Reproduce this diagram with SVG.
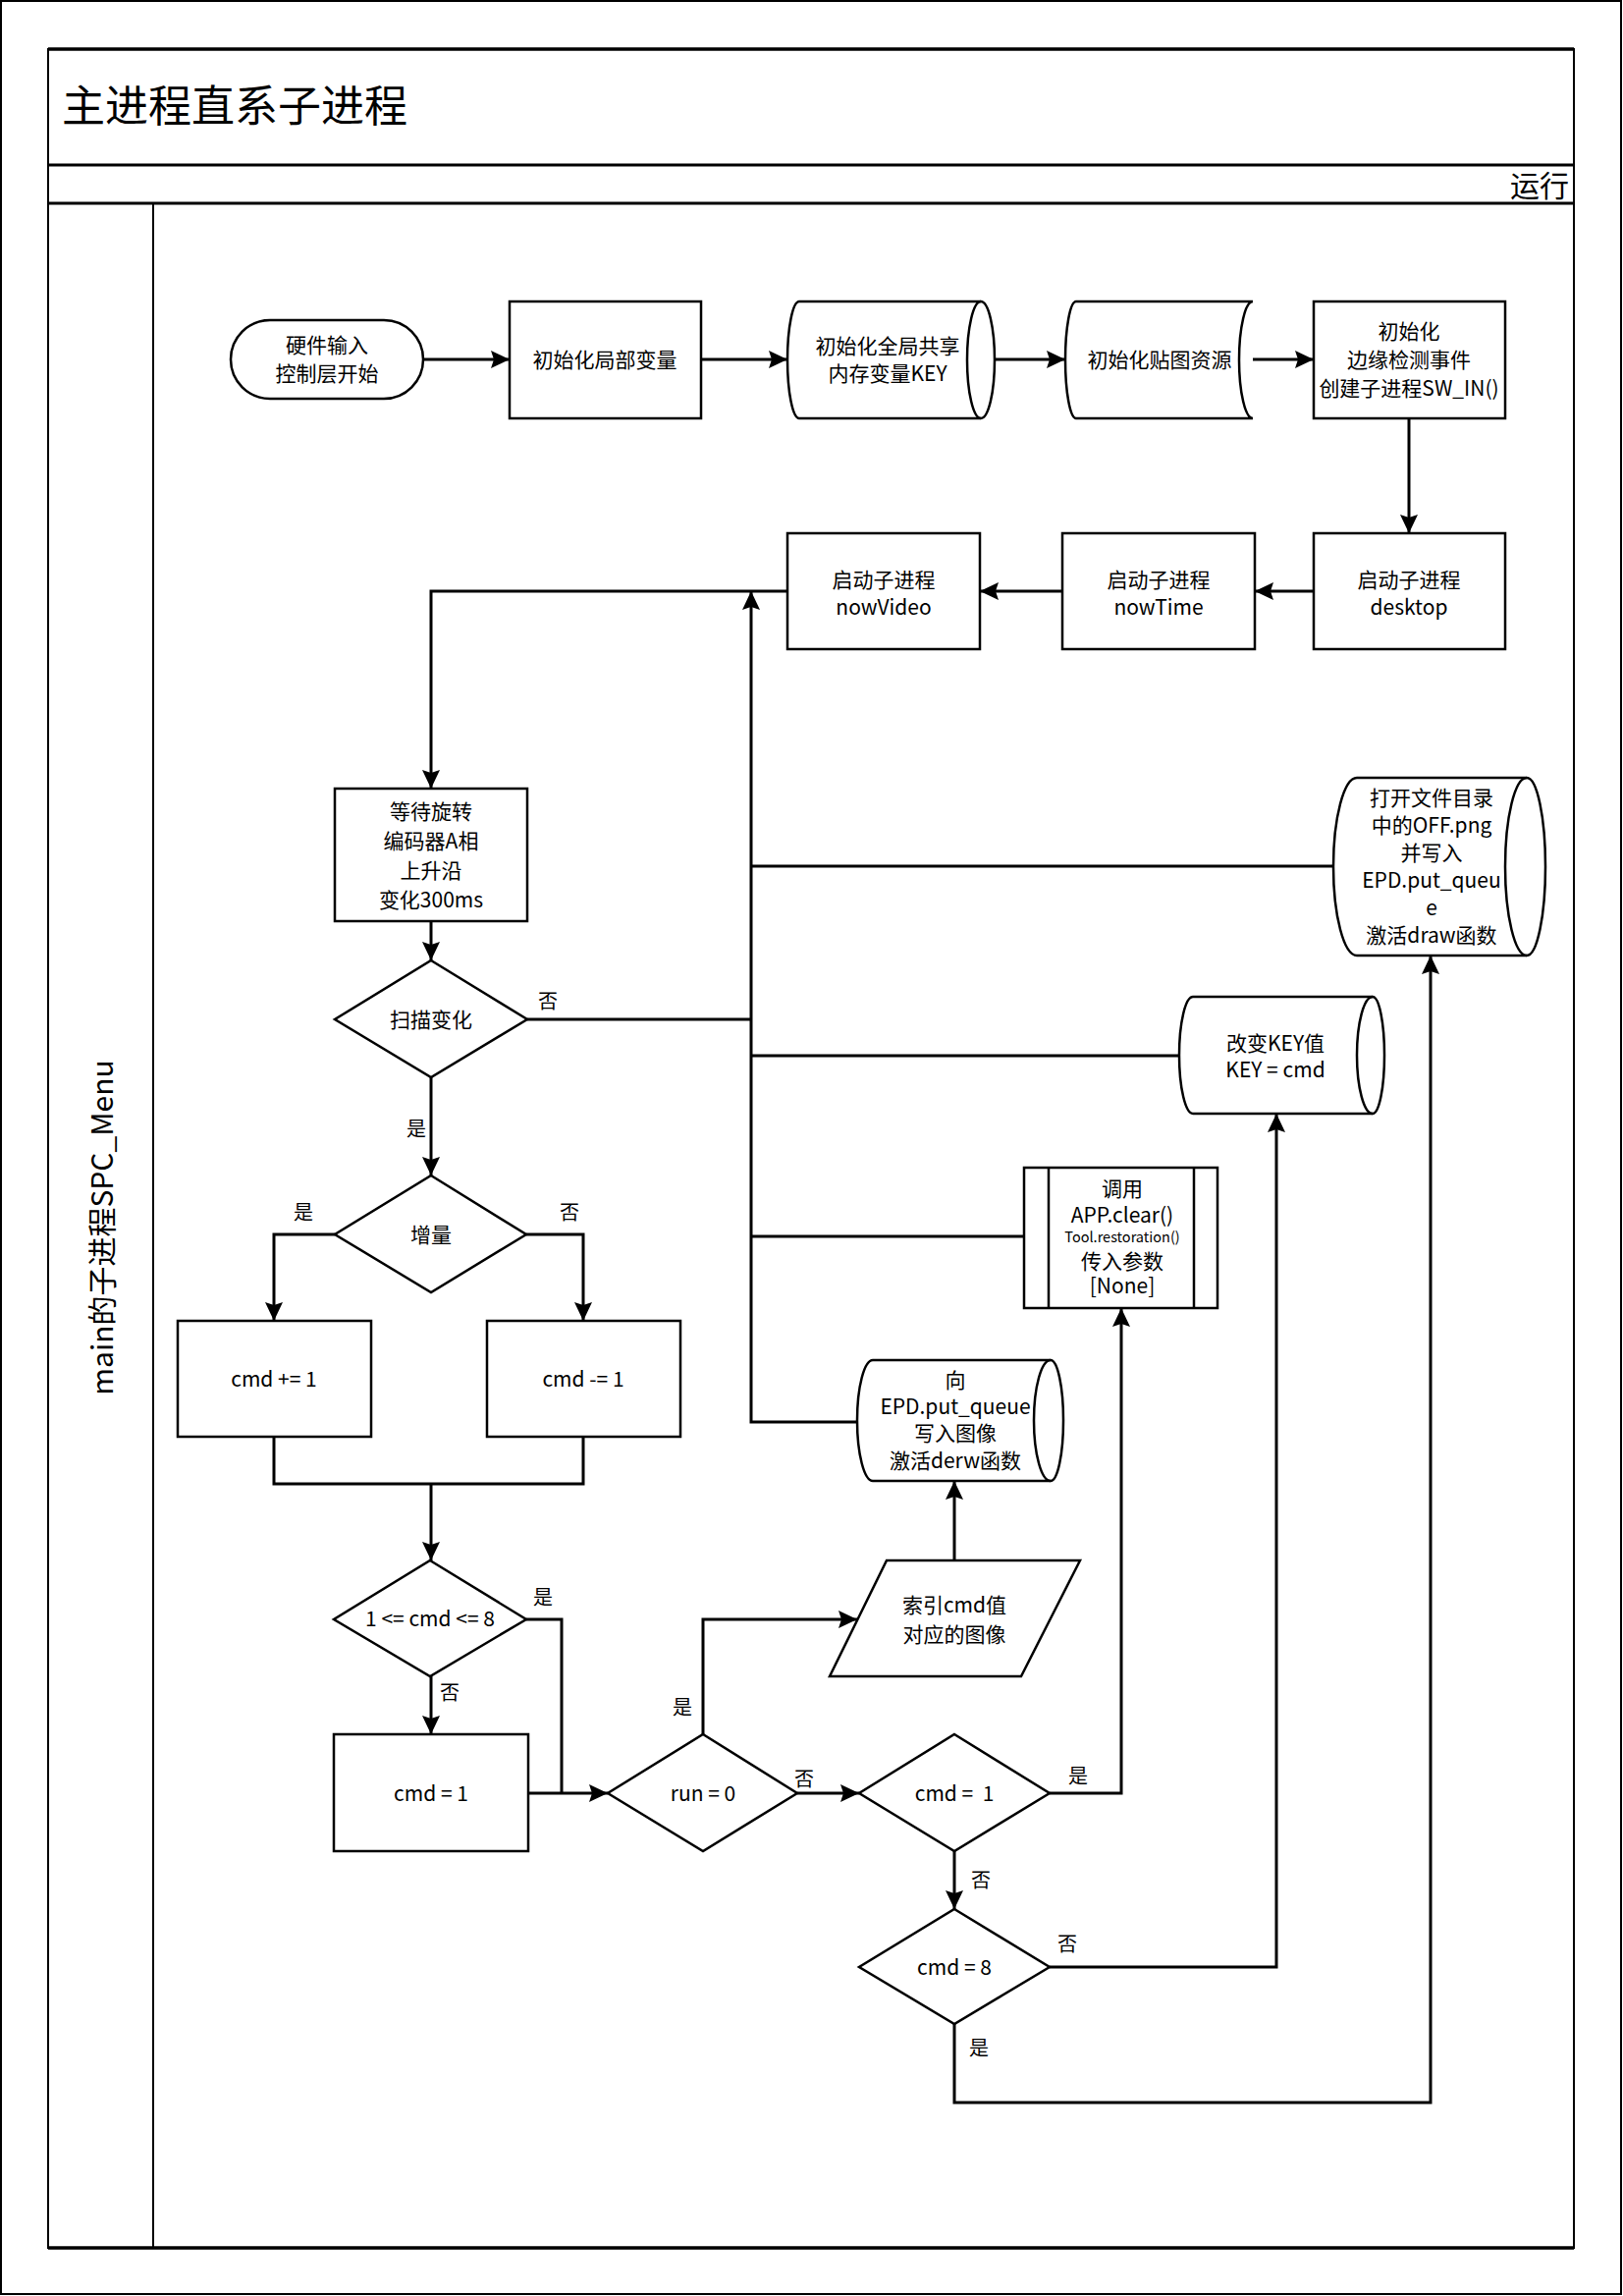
<svg xmlns="http://www.w3.org/2000/svg" width="1653" height="2338" viewBox="0 0 1653 2338">
<style>
.n{fill:#fff;stroke:#000;stroke-width:2.5}
.o{fill:none;stroke:#000;stroke-width:2.5}
.c{fill:none;stroke:#000;stroke-width:3}
.f{fill:none;stroke:#000}
text{font-family:"Noto Sans CJK SC","Noto Sans",sans-serif;fill:#000}
.t{font-size:21px;text-anchor:middle;white-space:pre}
.s{font-size:14.5px;text-anchor:middle}
.l{font-size:20px;text-anchor:middle}
</style>
<defs>
<marker id="ah" viewBox="0 0 19 18" refX="19" refY="9" markerWidth="19" markerHeight="18" markerUnits="userSpaceOnUse" orient="auto">
<path d="M0,0 L19,9 L0,18 L3,9 Z" fill="#000"/>
</marker>
</defs>
<rect x="0" y="0" width="1653" height="2338" fill="#fff"/>
<g id="frame">
<rect x="1" y="1" width="1650" height="2335" class="f" stroke-width="2"/>
<rect x="49" y="50" width="1554" height="2239" class="f" stroke-width="2"/>
<line x1="49" y1="50" x2="1603" y2="50" class="f" stroke-width="3.5"/>
<line x1="49" y1="2289" x2="1603" y2="2289" class="f" stroke-width="3.5"/>
<line x1="49" y1="168" x2="1603" y2="168" class="f" stroke-width="3"/>
<line x1="49" y1="207" x2="1603" y2="207" class="f" stroke-width="3"/>
<line x1="156" y1="207" x2="156" y2="2289" class="f" stroke-width="2"/>
<text x="63" y="124" font-size="44">主进程直系子进程</text>
<text x="1598" y="200" font-size="30" text-anchor="end">运行</text>
<text transform="translate(115,1250) rotate(-90)" font-size="30" text-anchor="middle">main的子进程SPC_Menu</text>
</g>
<g id="connectors">
<path class="c" marker-end="url(#ah)" d="M431,366 H519"/>
<path class="c" marker-end="url(#ah)" d="M714,366 H802"/>
<path class="c" marker-end="url(#ah)" d="M1013,366 H1085"/>
<path class="c" marker-end="url(#ah)" d="M1276,366 H1338"/>
<path class="c" marker-end="url(#ah)" d="M1435,426 V543"/>
<path class="c" marker-end="url(#ah)" d="M1338,602 H1278"/>
<path class="c" marker-end="url(#ah)" d="M1082,602 H998"/>
<path class="c" marker-end="url(#ah)" d="M802,602 H439 V803"/>
<path class="c" marker-end="url(#ah)" d="M873,1448 H765 V602"/>
<path class="c" d="M1358,882 H765"/>
<path class="c" d="M537,1038 H765"/>
<path class="c" d="M1201,1075 H765"/>
<path class="c" d="M1043,1259 H765"/>
<path class="c" marker-end="url(#ah)" d="M439,938 V978"/>
<path class="c" marker-end="url(#ah)" d="M439,1097 V1197"/>
<path class="c" marker-end="url(#ah)" d="M341,1257 H279 V1345"/>
<path class="c" marker-end="url(#ah)" d="M536,1257 H594 V1345"/>
<path class="c" d="M279,1463 V1511 H594 V1463"/>
<path class="c" marker-end="url(#ah)" d="M439,1511 V1589"/>
<path class="c" marker-end="url(#ah)" d="M439,1707 V1766"/>
<path class="c" d="M536,1649 H572 V1826"/>
<path class="c" marker-end="url(#ah)" d="M538,1826 H619"/>
<path class="c" marker-end="url(#ah)" d="M716,1766 V1649 H873"/>
<path class="c" marker-end="url(#ah)" d="M812,1826 H875"/>
<path class="c" marker-end="url(#ah)" d="M972,1589 V1508"/>
<path class="c" marker-end="url(#ah)" d="M1069,1826 H1142 V1332"/>
<path class="c" marker-end="url(#ah)" d="M972,1885 V1944"/>
<path class="c" marker-end="url(#ah)" d="M1069,2003 H1300 V1134"/>
<path class="c" marker-end="url(#ah)" d="M972,2061 V2141 H1457 V973"/>
<text class="l" x="558" y="1027">否</text>
<text class="l" x="424" y="1157">是</text>
<text class="l" x="309" y="1242">是</text>
<text class="l" x="580" y="1242">否</text>
<text class="l" x="553" y="1634">是</text>
<text class="l" x="458" y="1731">否</text>
<text class="l" x="695" y="1746">是</text>
<text class="l" x="819" y="1819">否</text>
<text class="l" x="1098" y="1816">是</text>
<text class="l" x="999" y="1922">否</text>
<text class="l" x="1087" y="1987">否</text>
<text class="l" x="997" y="2093">是</text>
</g>
<g id="start">
<rect class="n" x="235" y="326" width="196" height="80" rx="40"/>
<text class="t" x="333" y="359">硬件输入</text>
<text class="t" x="333" y="388">控制层开始</text>
</g>
<g id="initLocal">
<rect class="n" x="519" y="307" width="195" height="119"/>
<text class="t" x="616" y="373.5">初始化局部变量</text>
</g>
<g id="initShared">
<path class="n" d="M814,307 H999 A14,59.5 0 0 1 999,426 H814 A12,59.5 0 0 1 814,307 Z"/>
<path class="o" d="M999,307 A14,59.5 0 0 0 999,426"/>
<text class="t" x="904" y="359.5">初始化全局共享</text>
<text class="t" x="904" y="387.5">内存变量KEY</text>
</g>
<g id="initRes">
<path class="n" d="M1096,307 H1276 A14,59.5 0 0 0 1276,426 H1096 A11,59.5 0 0 1 1096,307 Z"/>
<text class="t" x="1181" y="373.5">初始化贴图资源</text>
</g>
<g id="initEdge">
<rect class="n" x="1338" y="307" width="195" height="119"/>
<text class="t" x="1435" y="344.5">初始化</text>
<text class="t" x="1435" y="373.5">边缘检测事件</text>
<text class="t" x="1435" y="402.5">创建子进程SW_IN()</text>
</g>
<g id="desktop">
<rect class="n" x="1338" y="543" width="195" height="118"/>
<text class="t" x="1435" y="597.5">启动子进程</text>
<text class="t" x="1435" y="625.5">desktop</text>
</g>
<g id="nowTime">
<rect class="n" x="1082" y="543" width="196" height="118"/>
<text class="t" x="1180" y="597.5">启动子进程</text>
<text class="t" x="1180" y="625.5">nowTime</text>
</g>
<g id="nowVideo">
<rect class="n" x="802" y="543" width="196" height="118"/>
<text class="t" x="900" y="597.5">启动子进程</text>
<text class="t" x="900" y="625.5">nowVideo</text>
</g>
<g id="wait">
<rect class="n" x="341" y="803" width="196" height="135"/>
<text class="t" x="439" y="833.5">等待旋转</text>
<text class="t" x="439" y="863.5">编码器A相</text>
<text class="t" x="439" y="893.5">上升沿</text>
<text class="t" x="439" y="923.5">变化300ms</text>
</g>
<g id="scan">
<path class="n" d="M439,978 L537,1038 L439,1097 L341,1038 Z"/>
<text class="t" x="439" y="1045.5">扫描变化</text>
</g>
<g id="inc">
<path class="n" d="M439,1197 L536,1257 L439,1316 L341,1257 Z"/>
<text class="t" x="439" y="1264.5">增量</text>
</g>
<g id="plus">
<rect class="n" x="181" y="1345" width="197" height="118"/>
<text class="t" x="279" y="1412">cmd += 1</text>
</g>
<g id="minus">
<rect class="n" x="496" y="1345" width="197" height="118"/>
<text class="t" x="594" y="1412">cmd -= 1</text>
</g>
<g id="range">
<path class="n" d="M438,1589 L536,1649 L438,1707 L340,1649 Z"/>
<text class="t" x="438" y="1655.5">1 &lt;= cmd &lt;= 8</text>
</g>
<g id="reset">
<rect class="n" x="340" y="1766" width="198" height="119"/>
<text class="t" x="439" y="1833.5">cmd = 1</text>
</g>
<g id="run">
<path class="n" d="M716,1766 L812,1826 L716,1885 L619,1826 Z"/>
<text class="t" x="716" y="1833.5">run = 0</text>
</g>
<g id="index">
<path class="n" d="M903,1589 L1100,1589 L1040,1707 L845,1707 Z"/>
<text class="t" x="972" y="1641.5">索引cmd值</text>
<text class="t" x="972" y="1671.5">对应的图像</text>
</g>
<g id="is1">
<path class="n" d="M972,1766 L1069,1826 L972,1885 L875,1826 Z"/>
<text class="t" x="972" y="1833.5">cmd =  1</text>
</g>
<g id="is8">
<path class="n" d="M972,1944 L1069,2003 L972,2061 L875,2003 Z"/>
<text class="t" x="972" y="2010.5">cmd = 8</text>
</g>
<g id="epd">
<path class="n" d="M889,1385 H1070 A13,61.5 0 0 1 1070,1508 H889 A16,61.5 0 0 1 889,1385 Z"/>
<path class="o" d="M1070,1385 A17,61.5 0 0 0 1070,1508"/>
<text class="t" x="973" y="1413">向</text>
<text class="t" x="973" y="1440">EPD.put_queue</text>
<text class="t" x="973" y="1467">写入图像</text>
<text class="t" x="973" y="1494.5">激活derw函数</text>
</g>
<g id="clear">
<rect class="n" x="1043" y="1189" width="197" height="143"/>
<line class="o" x1="1068" y1="1189" x2="1068" y2="1332"/>
<line class="o" x1="1216" y1="1189" x2="1216" y2="1332"/>
<text class="t" x="1143" y="1218">调用</text>
<text class="t" x="1143" y="1245">APP.clear()</text>
<text class="s" x="1143" y="1265">Tool.restoration()</text>
<text class="t" x="1143" y="1291.5">传入参数</text>
<text class="t" x="1143" y="1317">[None]</text>
</g>
<g id="key">
<path class="n" d="M1215,1015 H1398 A12,59.5 0 0 1 1398,1134 H1215 A14,59.5 0 0 1 1215,1015 Z"/>
<path class="o" d="M1398,1015 A16,59.5 0 0 0 1398,1134"/>
<text class="t" x="1299" y="1069.5">改变KEY值</text>
<text class="t" x="1299" y="1096.5">KEY = cmd</text>
</g>
<g id="off">
<path class="n" d="M1382,792 H1555 A19,90.5 0 0 1 1555,973 H1382 A24,90.5 0 0 1 1382,792 Z"/>
<path class="o" d="M1555,792 A22,90.5 0 0 0 1555,973"/>
<text class="t" x="1458" y="820">打开文件目录</text>
<text class="t" x="1458" y="848">中的OFF.png</text>
<text class="t" x="1458" y="876">并写入</text>
<text class="t" x="1458" y="904">EPD.put_queu</text>
<text class="t" x="1458" y="932">e</text>
<text class="t" x="1458" y="960">激活draw函数</text>
</g>
</svg>
